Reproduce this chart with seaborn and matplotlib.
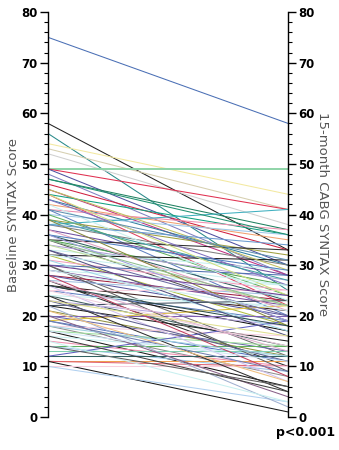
import numpy as np
import pandas as pd
import matplotlib
matplotlib.use("Agg")
import matplotlib.pyplot as plt
from matplotlib.ticker import MultipleLocator
import seaborn as sns

# Per-patient SYNTAX scores: baseline and 15-month after CABG
baseline = [75, 58, 56, 54, 53, 52, 49, 49, 49, 48, 47, 46, 45, 44, 44, 43, 42, 41, 41, 40,
            40, 39, 38, 38, 37, 36, 35, 35, 35, 34, 33, 32, 32, 31, 30, 30, 29, 29, 28, 28,
            27, 27, 26, 26, 25, 25, 24, 24, 23, 22, 22, 21, 20, 20, 19, 19, 18, 18, 17, 17,
            16, 15, 14, 14, 13, 12, 12, 11, 11, 11, 10, 10, 45, 43, 42, 39, 37, 36, 34, 33,
            31, 30, 28, 26, 24, 22, 20, 15, 47, 44, 41, 39, 36, 33, 29, 27, 23, 21, 18, 16,
            38, 35, 32, 30, 26, 25, 23, 19, 17, 14]
followup = [58, 33, 25, 44, 41, 38, 49, 41, 30, 28, 37, 33, 28, 36, 22, 30, 35, 37, 20, 36,
            24, 32, 41, 30, 28, 23, 33, 19, 26, 27, 29, 31, 18, 25, 28, 12, 26, 22, 23, 20,
            24, 10, 21, 17, 19, 25, 14, 22, 18, 23, 15, 12, 20, 13, 22, 11, 16, 8, 14, 6,
            12, 10, 14, 9, 13, 12, 19, 11, 10, 1, 10, 3, 29, 26, 23, 27, 21, 29, 22, 20,
            17, 9, 8, 7, 5, 2, 4, 3, 36, 24, 31, 18, 19, 16, 21, 13, 11, 7, 12, 5,
            34, 22, 26, 24, 18, 14, 16, 9, 11, 6]
line_colors = ["#4a6fb5", "#222222", "#2a8a8a", "#f3e9a0", "#d6cfb0", "#d0d0d0", "#8fd4a8", "#e03050",
               "#5050a0", "#8080c0", "#208060", "#d02040", "#c03080", "#10a080", "#e04060", "#3080a0",
               "#f0a070", "#f090b0", "#6080c0", "#a0c8e8", "#60b060", "#a0a040", "#40b0c0", "#808080",
               "#7050a0", "#306060", "#303030", "#505050", "#50a050", "#b0a0d8", "#c8f0f0", "#202020",
               "#b0c040", "#f0a0c0", "#5070b0", "#707070", "#c8f0f0", "#8050a0", "#a02040", "#5858a0",
               "#a0c0e0", "#303030", "#402020", "#111111", "#6080c0", "#f8d0e0", "#406060", "#c8f0f0",
               "#b8a8e0", "#405060", "#202020", "#909040", "#8060b0", "#6868a8", "#e0c040", "#5070c0",
               "#f8d0e0", "#909090", "#a0e0a0", "#1a1a1a", "#c8f0f0", "#f090b0", "#60b060", "#a0c8e8",
               "#80d0b0", "#306060", "#6060c0", "#f0a050", "#e06070", "#1a1a1a", "#f8d0e0", "#b0d0f0",
               "#c0c060", "#8070c0", "#c8f0f0", "#40a0a0", "#e0a0c0", "#5080c0", "#c0e0a0", "#6a6aa0",
               "#a0d8e8", "#606060", "#c04060", "#d0c0f0", "#303030", "#a0b0d0", "#886088", "#c8f0f0",
               "#209070", "#d0e080", "#6090b0", "#8a8a3a", "#a0a0e0", "#505080", "#d0f0f0", "#e0b0d0",
               "#606090", "#f0c080", "#a0d0e0", "#404040", "#6a9ad0", "#90c090", "#c8f0f0", "#704090",
               "#2f4f4f", "#f0d0e0", "#e0e090", "#7080b0", "#d0e8f8", "#606060"]

n = len(baseline)
df = pd.DataFrame({
    "patient": np.repeat(np.arange(n), 2),
    "time": np.tile([0, 1], n),
    "score": np.ravel(np.column_stack([baseline, followup])),
})

fig = plt.figure(figsize=(3.39, 4.5), dpi=100)
ax = fig.add_axes([0.1416, 0.0733, 0.708, 0.9])
sns.lineplot(data=df, x="time", y="score", hue="patient", palette=line_colors,
             estimator=None, legend=False, linewidth=0.75, ax=ax)

# Emphasise the unchanged score of 49
for line in ax.lines:
    yd = line.get_ydata()
    if len(yd) == 2 and yd[0] == 49 and yd[1] == 49:
        line.set_linewidth(1.4)

ax.set_xlim(0, 1)
ax.set_ylim(0, 80)
ax.set_xticks([])
ax.set_xlabel("")
for s in ("top", "bottom"):
    ax.spines[s].set_visible(False)
ax.spines["left"].set_linewidth(1.0)
ax.spines["right"].set_visible(False)

ax2 = ax.twinx()
ax2.set_ylim(0, 80)
for s in ("top", "bottom", "left"):
    ax2.spines[s].set_visible(False)
ax2.spines["right"].set_linewidth(1.0)

for a in (ax, ax2):
    a.yaxis.set_major_locator(MultipleLocator(10))
    a.yaxis.set_minor_locator(MultipleLocator(2))
    a.tick_params(axis="y", which="major", length=6, width=1.0, labelsize=8.5, pad=1.5)
    a.tick_params(axis="y", which="minor", length=3, width=0.8)
    for lbl in a.get_yticklabels():
        lbl.set_fontweight("bold")

ax.set_ylabel("Baseline SYNTAX Score", fontsize=9.5, color="#555555")
ax.yaxis.set_label_coords(-0.118, 0.5)
ax2.set_ylabel("15-month CABG SYNTAX Score", fontsize=9.5, color="#555555", rotation=270, va="center")
ax2.yaxis.set_label_coords(1.145, 0.5)

fig.text(0.9, 0.025, "p<0.001", ha="center", va="bottom", fontsize=9, fontweight="bold")

fig.savefig("out.png", dpi=100)
